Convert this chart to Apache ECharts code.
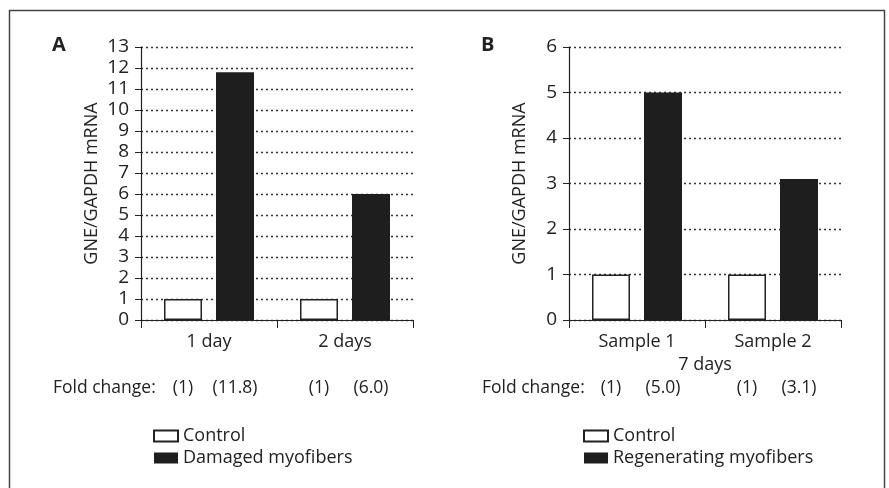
<!DOCTYPE html>
<html lang="en">
<head>
    <meta charset="UTF-8">
    <title>GNE/GAPDH mRNA</title>
    <script src="https://cdn.jsdelivr.net/npm/echarts@6/dist/echarts.min.js"></script>
</head>
<body style="margin:0;background:#fff;">
<div id="chart" style="width: 889px;height:488px;"></div>
<script>
    // panel A
    let categoriesA = ["1 day", "2 days"],
        controlA = [1.0, 1.0],
        damagedA = [11.8, 6.0],
        foldA = ["(1)", "(11.8)", "(1)", "(6.0)"];
    // panel B
    let categoriesB = ["Sample 1", "Sample 2"],
        controlB = [1.0, 1.0],
        regenB = [5.0, 3.1],
        foldB = ["(1)", "(5.0)", "(1)", "(3.1)"];

    let font = "'Open Sans', sans-serif",
        ink = "#222",
        barW = 38,
        gap = 14;

    let myChart = echarts.init(document.getElementById("chart"));

    function yAxis(idx, max) {
        return {
            type: 'value',
            gridIndex: idx,
            min: 0,
            max: max,
            interval: 1,
            name: "GNE/GAPDH mRNA",
            nameLocation: 'middle',
            nameGap: 40,
            nameTextStyle: {color: ink, fontSize: 18, fontFamily: font},
            axisLine: {show: true, lineStyle: {color: ink, width: 1.2}},
            axisTick: {show: true, length: 6, lineStyle: {color: ink}},
            axisLabel: {color: ink, fontSize: 19, fontFamily: font, margin: 12},
            splitLine: {show: true, lineStyle: {color: "#333", type: [2, 3], width: 1.3}}
        };
    }

    function xAxis(idx, cats, name) {
        return {
            type: 'category',
            gridIndex: idx,
            data: cats,
            name: name,
            nameLocation: 'middle',
            nameGap: 34,
            nameTextStyle: {color: ink, fontSize: 18, fontFamily: font},
            axisLine: {lineStyle: {color: ink, width: 1.2}},
            axisTick: {show: true, length: 8, lineStyle: {color: ink}},
            axisLabel: {color: ink, fontSize: 18, fontFamily: font, margin: 13}
        };
    }

    function legend(left, names) {
        return {
            orient: 'vertical', left: left, top: 425, padding: 0,
            itemWidth: 24, itemHeight: 11, itemGap: 0, itemTextGap: 6,
            icon: 'rect',
            data: names,
            textStyle: {color: ink, fontSize: 18, fontFamily: font, lineHeight: 22}
        };
    }

    let controlStyle = {color: "#fff", borderColor: ink, borderWidth: 1.5},
        darkStyle = {color: "#1e1e1e"};

    let option = {
        animation: false,
        backgroundColor: "#fff",
        grid: [
            {left: 141, top: 47, width: 272, height: 273},
            {left: 569, top: 47, width: 272, height: 273}
        ],
        xAxis: [xAxis(0, categoriesA, ""), xAxis(1, categoriesB, "7 days")],
        yAxis: [yAxis(0, 13), yAxis(1, 6)],
        legend: [
            legend(153, ["Control", "Damaged myofibers"]),
            legend(583, ["Control", "Regenerating myofibers"])
        ],
        series: [
            {name: "Control", type: 'bar', xAxisIndex: 0, yAxisIndex: 0, data: controlA,
                barWidth: barW, barGap: (gap / barW * 100) + '%', itemStyle: controlStyle},
            {name: "Damaged myofibers", type: 'bar', xAxisIndex: 0, yAxisIndex: 0, data: damagedA,
                barWidth: barW, itemStyle: darkStyle},
            {name: "Control", type: 'bar', xAxisIndex: 1, yAxisIndex: 1, data: controlB,
                barWidth: barW, barGap: (gap / barW * 100) + '%', itemStyle: controlStyle},
            {name: "Regenerating myofibers", type: 'bar', xAxisIndex: 1, yAxisIndex: 1, data: regenB,
                barWidth: barW, itemStyle: darkStyle}
        ]
    };
    myChart.setOption(option);

    // frame, panel letters and fold-change row
    let graphics = [
        {type: 'rect', shape: {x: 9.5, y: 10.5, width: 875, height: 500}, silent: true,
            style: {fill: null, stroke: "#444", lineWidth: 1.5}},
        {type: 'text', left: 52, top: 35, style: {text: "A", fill: ink, font: "bold 20px " + font}},
        {type: 'text', left: 481, top: 35, style: {text: "B", fill: ink, font: "bold 20px " + font}},
        {type: 'text', x: 53, y: 388, style: {text: "Fold change:", fill: ink, font: "17.5px " + font, verticalAlign: 'middle'}},
        {type: 'text', x: 482, y: 388, style: {text: "Fold change:", fill: ink, font: "17.5px " + font, verticalAlign: 'middle'}}
    ];
    [[0, categoriesA, foldA], [1, categoriesB, foldB]].forEach(function (p) {
        p[1].forEach(function (c, i) {
            let cx = myChart.convertToPixel({xAxisIndex: p[0]}, c),
                off = (barW + gap) / 2;
            [cx - off, cx + off].forEach(function (x, j) {
                graphics.push({
                    type: 'text', x: x, y: 388,
                    style: {text: p[2][i * 2 + j], fill: ink, font: "17.5px " + font, align: 'center', verticalAlign: 'middle'}
                });
            });
        });
    });
    myChart.setOption({graphic: graphics});
</script>
</body>
</html>
